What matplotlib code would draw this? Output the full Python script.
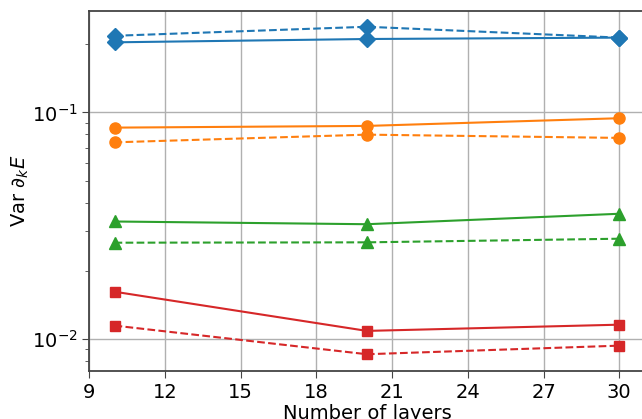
import matplotlib
matplotlib.use("Agg")
import matplotlib.pyplot as plt
import numpy as np

layers = [10, 20, 30]

# solid / dashed pairs per colour
blue_solid = [0.204, 0.211, 0.214]
blue_dashed = [0.218, 0.239, 0.214]
orange_solid = [0.0857, 0.0872, 0.0943]
orange_dashed = [0.0738, 0.0798, 0.0772]
green_solid = [0.0330, 0.0321, 0.0357]
green_dashed = [0.0266, 0.0267, 0.0277]
red_solid = [0.01616, 0.01085, 0.01156]
red_dashed = [0.01145, 0.00856, 0.00934]

xticks = [9, 12, 15, 18, 21, 24, 27, 30]

fig = plt.figure(figsize=(6.42, 4.19), dpi=100)
ax = fig.add_axes([89.3 / 642, 1 - 370.7 / 419, 555.2 / 642, (370.7 - 11) / 419])

series = [
    (blue_solid, blue_dashed, "#1f77b4", "D", 8),
    (orange_solid, orange_dashed, "#ff7f0e", "o", 8),
    (green_solid, green_dashed, "#2ca02c", "^", 8),
    (red_solid, red_dashed, "#d62728", "s", 7.5),
]
for solid, dashed, c, m, ms in series:
    ax.plot(layers, solid, color=c, marker=m, markersize=ms, linestyle="-", linewidth=1.5)
    ax.plot(layers, dashed, color=c, marker=m, markersize=ms, linestyle="--", linewidth=1.5)

ax.set_yscale("log")
ax.set_xlim(9, 31)
ax.set_ylim(0.00724, 0.2805)
ax.set_xticks(xticks)
ax.grid(True, which="major", color="#b0b0b0", linewidth=1.0)
ax.set_axisbelow(True)

for s in ax.spines.values():
    s.set_color("#444444")
    s.set_linewidth(1.3)
ax.tick_params(which="both", colors="#444444", labelcolor="black", labelsize=14)
ax.tick_params(which="major", length=5)
ax.tick_params(which="minor", length=3)

# the reference crops this label at the bottom edge as well
ax.set_xlabel("Number of layers", fontsize=14, labelpad=2)
ax.set_ylabel(r"Var $\partial_k E$", fontsize=14, labelpad=0.5)

fig.savefig("out.png", dpi=100)
